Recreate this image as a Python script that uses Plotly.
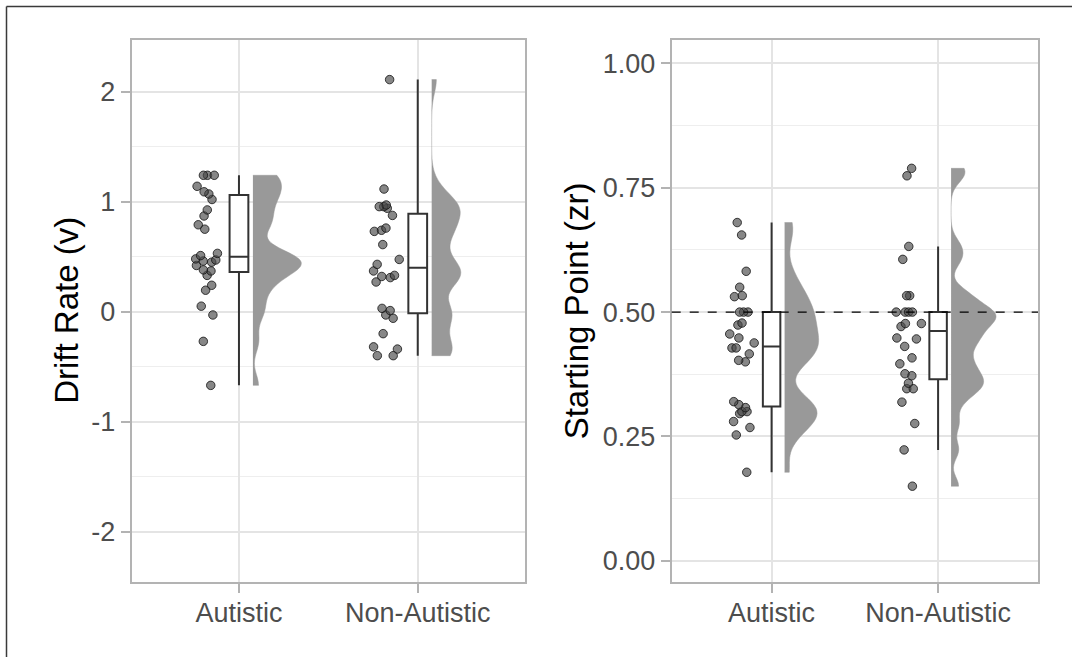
import plotly.graph_objects as go

# ---------------- data ----------------
groups = ["Autistic", "Non-Autistic"]
group_pos = [1, 2]

drift_autistic = [1.24, 1.24, 1.24, 1.14, 1.09, 1.07, 1.02, 0.925, 0.87, 0.79, 0.75,
                  0.53, 0.51, 0.48, 0.47, 0.46, 0.45, 0.42, 0.38, 0.37, 0.33, 0.24,
                  0.195, 0.05, -0.03, -0.27, -0.67]
drift_non_autistic = [2.11, 1.115, 0.97, 0.955, 0.955, 0.94, 0.875, 0.76, 0.74, 0.73,
                      0.61, 0.475, 0.43, 0.37, 0.33, 0.32, 0.31, 0.27, 0.03, 0.01,
                      -0.03, -0.06, -0.20, -0.32, -0.34, -0.40, -0.40]
zr_autistic = [0.68, 0.655, 0.582, 0.55, 0.533, 0.531, 0.50, 0.50, 0.50, 0.478, 0.474,
               0.456, 0.448, 0.438, 0.428, 0.428, 0.416, 0.403, 0.40, 0.32, 0.314,
               0.308, 0.30, 0.30, 0.296, 0.28, 0.268, 0.253, 0.178]
zr_non_autistic = [0.789, 0.774, 0.632, 0.606, 0.533, 0.533, 0.50, 0.50, 0.50, 0.50,
                   0.477, 0.477, 0.471, 0.448, 0.446, 0.431, 0.408, 0.396, 0.376,
                   0.372, 0.357, 0.346, 0.346, 0.319, 0.276, 0.223, 0.15]

# box statistics [Autistic, Non-Autistic]
drift_q1 = [0.36, -0.015]
drift_median = [0.50, 0.40]
drift_q3 = [1.06, 0.89]
drift_lower = [-0.67, -0.40]
drift_upper = [1.24, 2.11]

zr_q1 = [0.31, 0.365]
zr_median = [0.431, 0.462]
zr_q3 = [0.50, 0.50]
zr_lower = [0.178, 0.223]
zr_upper = [0.68, 0.632]

# density bandwidths [Autistic, Non-Autistic]
drift_bandwidth = [0.10, 0.12]
zr_bandwidth = [0.03, 0.019]

zr_reference = 0.5

drift_ticks = [-2, -1, 0, 1, 2]
drift_ticklabels = ["-2", "-1", "0", "1", "2"]
zr_ticks = [0.0, 0.25, 0.5, 0.75, 1.0]

y_titles = ["Drift Rate (v)", "Starting Point (zr)"]

# ---------------- styling ----------------
W, H = 1072, 657
FONT = "Liberation Sans, Arial, sans-serif"
TICK_COLOR = "#4d4d4d"
BORDER = "#b3b3b3"
GRID = "#e4e4e4"
MINOR_GRID = "#eeeeee"
VIOLIN = "#999999"

VIOLIN_OFFSET = 0.078
BOX_WIDTH = 0.105

fig = go.Figure()

panels = [
    dict(xa="x", ya="y", series=[drift_autistic, drift_non_autistic], bw=drift_bandwidth,
         stats=(drift_q1, drift_median, drift_q3, drift_lower, drift_upper), sg="left"),
    dict(xa="x2", ya="y2", series=[zr_autistic, zr_non_autistic], bw=zr_bandwidth,
         stats=(zr_q1, zr_median, zr_q3, zr_lower, zr_upper), sg="right"),
]

for p in panels:
    # half violins (shared density scale within a panel via scalegroup)
    for pos, vals, bw in zip(group_pos, p["series"], p["bw"]):
        fig.add_trace(go.Violin(
            y=vals, x0=pos + VIOLIN_OFFSET, xaxis=p["xa"], yaxis=p["ya"],
            side="positive", points=False,
            spanmode="hard", bandwidth=bw, scalegroup=p["sg"], scalemode="width",
            fillcolor=VIOLIN, line=dict(color=VIOLIN, width=0.5), opacity=1,
            showlegend=False, hoverinfo="skip"))
    # boxes
    q1, med, q3, lo, hi = p["stats"]
    fig.add_trace(go.Box(
        x=group_pos, q1=q1, median=med, q3=q3, lowerfence=lo, upperfence=hi,
        xaxis=p["xa"], yaxis=p["ya"], width=BOX_WIDTH, whiskerwidth=0,
        fillcolor="white", line=dict(color="#333333", width=2),
        boxpoints=False, showlegend=False, hoverinfo="skip"))
    # jittered points
    for pos, vals in zip(group_pos, p["series"]):
        fig.add_trace(go.Box(
            y=vals, x0=pos, xaxis=p["xa"], yaxis=p["ya"], width=0.22,
            boxpoints="all", jitter=0.8, pointpos=-1.6,
            fillcolor="rgba(0,0,0,0)", line=dict(color="rgba(0,0,0,0)", width=0),
            marker=dict(size=8.5, color="rgba(70,70,70,0.65)",
                        line=dict(color="rgba(20,20,20,0.8)", width=1)),
            showlegend=False, hoverinfo="skip"))

# dashed reference line on right panel
fig.add_shape(type="line", xref="x2 domain", yref="y2", x0=0, x1=1,
              y0=zr_reference, y1=zr_reference,
              line=dict(color="black", width=1.3, dash="dash"))

ydom = [1 - 581.7 / H, 1 - 40 / H]
common_x = dict(tickvals=group_pos, ticktext=groups, showgrid=True, gridcolor=GRID,
                gridwidth=1.5, showline=True, mirror=True, linecolor=BORDER, linewidth=2.2,
                ticks="outside", ticklen=9, tickwidth=2, tickcolor=BORDER,
                tickfont=dict(family=FONT, size=27, color=TICK_COLOR), zeroline=False,
                range=[0.4, 2.6], ticklabelstandoff=-3)
common_y = dict(showgrid=True, gridcolor=GRID, gridwidth=1.5, showline=True, mirror=True,
                linecolor=BORDER, linewidth=2.2, ticks="outside", ticklen=9, tickwidth=2,
                tickcolor=BORDER, tickfont=dict(family=FONT, size=27, color=TICK_COLOR),
                zeroline=False, domain=ydom)

fig.update_layout(
    width=W, height=H, margin=dict(l=0, r=0, t=0, b=0),
    paper_bgcolor="white", plot_bgcolor="white",
    boxmode="overlay", violinmode="overlay", violingap=0.46, violingroupgap=0,
    showlegend=False,
    xaxis=dict(domain=[131.7 / W, 525 / W], anchor="y", **common_x),
    yaxis=dict(anchor="x", range=[-2.455, 2.47], tickvals=drift_ticks,
               ticktext=drift_ticklabels,
               minor=dict(dtick=0.5, showgrid=True, gridcolor=MINOR_GRID, gridwidth=1),
               **common_y),
    xaxis2=dict(domain=[671.7 / W, 1038 / W], anchor="y2", **common_x),
    yaxis2=dict(anchor="x2", range=[-0.042, 1.047], tickvals=zr_ticks, tickformat=".2f",
                minor=dict(dtick=0.125, showgrid=True, gridcolor=MINOR_GRID, gridwidth=1),
                **common_y),
)

# axis titles
title_y = 1 - ((40 + 581.7) / 2) / H
for xpix, txt in zip([67, 576.5], y_titles):
    fig.add_annotation(x=xpix / W, y=title_y, xref="paper", yref="paper", text=txt,
                       textangle=-90, showarrow=False, xanchor="center", yanchor="middle",
                       font=dict(family=FONT, size=33, color="black"))

# outer frame (top and left edges visible)
fig.add_shape(type="line", xref="paper", yref="paper", x0=6.5 / W, x1=1.01,
              y0=1 - 6.5 / H, y1=1 - 6.5 / H, line=dict(color="#3a3a3a", width=1.5))
fig.add_shape(type="line", xref="paper", yref="paper", x0=6.5 / W, x1=6.5 / W,
              y0=-0.01, y1=1 - 6.5 / H, line=dict(color="#3a3a3a", width=1.5))

fig.write_html("out.html", config={"displayModeBar": False},
               post_script="document.body.style.margin='0px';")
